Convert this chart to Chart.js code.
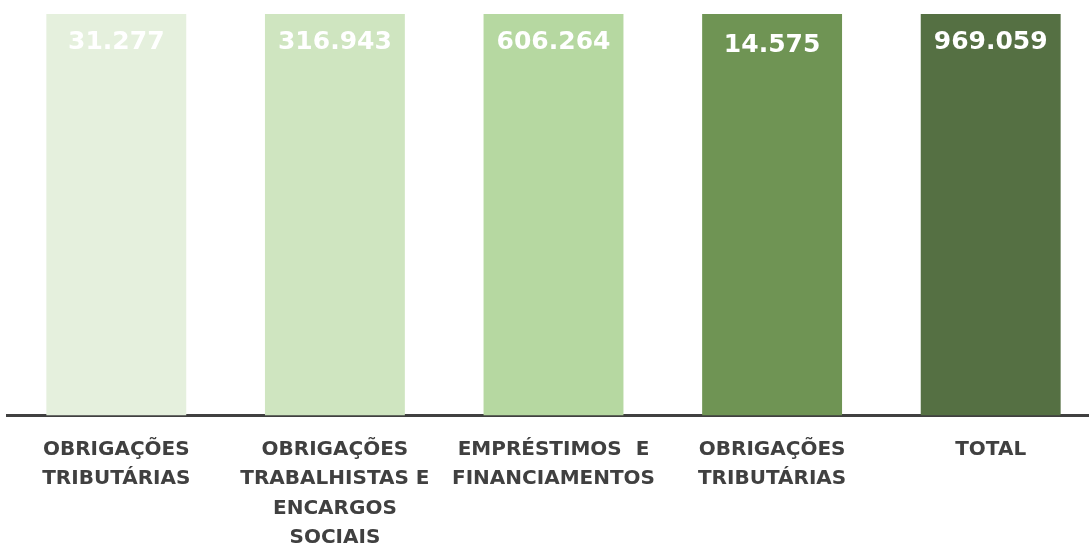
<!DOCTYPE html>
<html>
<head>
<meta charset="utf-8">
<script src="https://cdn.jsdelivr.net/npm/chart.js@4.4.1/dist/chart.umd.min.js"></script>
<style>
  html, body { margin: 0; padding: 0; background: #fff; overflow: hidden; }
  #wrap { width: 1100px; height: 545px; overflow: hidden; }
</style>
</head>
<body>
<div id="wrap"><canvas id="chart" width="1100" height="572"></canvas></div>
<script>
// categories (multi-line tick labels)
const categories = [
    ['OBRIGAÇÕES', 'TRIBUTÁRIAS'],
    ['OBRIGAÇÕES', 'TRABALHISTAS E', 'ENCARGOS', 'SOCIAIS'],
    ['EMPRÉSTIMOS  E', 'FINANCIAMENTOS'],
    ['OBRIGAÇÕES', 'TRIBUTÁRIAS'],
    ['TOTAL']
];
// every bar in the picture is drawn at the same full height
const barHeights = [100, 100, 100, 100, 100];
// values printed on the bars
const valueLabels = ['31.277', '316.943', '606.264', '14.575', '969.059'];
const barColors = ['#E5F0DD', '#CFE5C0', '#B6D8A1', '#6F9454', '#557043'];

// draws the value text near the top of each bar
const valueLabelPlugin = {
    id: 'valueLabels',
    afterDatasetsDraw(chart) {
        const ctx = chart.ctx;
        const meta = chart.getDatasetMeta(0);
        ctx.save();
        ctx.fillStyle = '#ffffff';
        ctx.font = 'bold 25px "DejaVu Sans"';
        ctx.textAlign = 'center';
        ctx.textBaseline = 'middle';
        meta.data.forEach((bar, i) => {
            const dy = i === 3 ? 31 : 28;
            ctx.fillText(valueLabels[i], bar.x, bar.y + dy);
        });
        ctx.restore();
    }
};

const ctx = document.getElementById('chart').getContext('2d');
new Chart(ctx, {
    type: 'bar',
    data: {
        labels: categories,
        datasets: [{
            data: barHeights,
            backgroundColor: barColors,
            borderWidth: 0,
            barPercentage: 0.64,
            categoryPercentage: 1
        }]
    },
    options: {
        responsive: false,
        animation: false,
        layout: { padding: { left: 7, right: 0, top: 14, bottom: 0 } },
        plugins: { legend: { display: false }, tooltip: { enabled: false } },
        scales: {
            y: { display: false, min: 0, max: 100 },
            x: {
                grid: { display: false, drawTicks: false },
                border: { display: true, color: '#404040', width: 3 },
                ticks: {
                    color: '#404040',
                    padding: 19,
                    maxRotation: 0,
                    autoSkip: false,
                    font: { family: '"DejaVu Sans"', weight: 'bold', size: 20, lineHeight: 1.48 }
                }
            }
        }
    },
    plugins: [valueLabelPlugin]
});
</script>
</body>
</html>
